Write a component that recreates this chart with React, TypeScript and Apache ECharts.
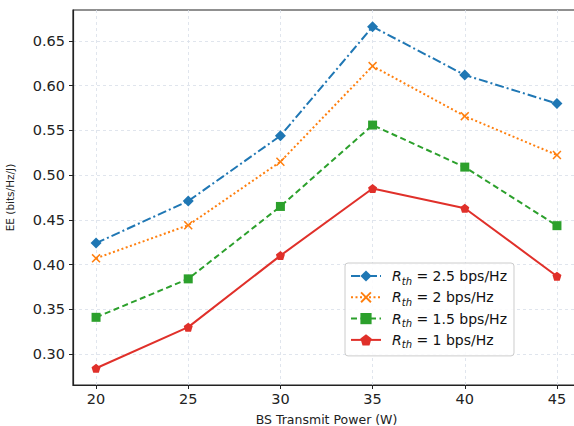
import React, { useEffect, useRef } from "react";
import * as echarts from "echarts";

const powers = [20, 25, 30, 35, 40, 45];
const xTicks = [20, 25, 30, 35, 40, 45];
const yTicks = [0.3, 0.35, 0.4, 0.45, 0.5, 0.55, 0.6, 0.65];
const rth25 = [0.424, 0.471, 0.544, 0.666, 0.612, 0.580];
const rth2 = [0.407, 0.444, 0.515, 0.622, 0.566, 0.5225];
const rth15 = [0.341, 0.384, 0.465, 0.556, 0.509, 0.4435];
const rth1 = [0.284, 0.330, 0.410, 0.485, 0.463, 0.387];
const legendValues = ["2.5", "2", "1.5", "1"];

const FONT = "DejaVu Sans";
const xPath = "path://M0,1.2 L1.2,0 L5,3.8 L8.8,0 L10,1.2 L6.2,5 L10,8.8 L8.8,10 L5,6.2 L1.2,10 L0,8.8 L3.8,5 Z";
const pentPath = "path://M5,0 L10,3.6 L8.1,9.5 L1.9,9.5 L0,3.6 Z";

export default function App() {
  const ref = useRef<HTMLDivElement>(null);
  useEffect(() => {
    const chart = echarts.init(ref.current!, null, { renderer: "svg" });
    const mk = (name: string, vals: number[], color: string, type: any, symbol: string, size: number) => ({
      name,
      type: "line",
      data: powers.map((p, i) => [p, vals[i]]),
      symbol,
      symbolSize: size,
      itemStyle: { color },
      lineStyle: { color, width: 2, type },
      z: 3,
    });
    chart.setOption({
      animation: false,
      backgroundColor: "#ffffff",
      grid: {
        left: 73,
        top: 10,
        bottom: 41,
        right: -6,
        outerBoundsMode: "none",
        containLabel: false,
        show: true,
        borderColor: "#222",
        borderWidth: 1.2,
        backgroundColor: "transparent",
      },
      xAxis: {
        type: "value",
        min: 18.75,
        max: 46.25,
        name: "BS Transmit Power (W)",
        nameLocation: "middle",
        nameGap: 28,
        nameTextStyle: { fontFamily: FONT, fontSize: 12.5, color: "#222" },
        axisLine: { show: true, lineStyle: { color: "#222", width: 1.2 } },
        axisTick: { show: true, length: 4, lineStyle: { color: "#222" }, customValues: xTicks },
        axisLabel: { fontFamily: FONT, fontSize: 14.5, color: "#222", margin: 6, customValues: xTicks },
        splitLine: { show: true, lineStyle: { color: "#d8dee8", type: [3, 3], width: 0.8 } },
      },
      yAxis: {
        type: "value",
        min: 0.2653,
        max: 0.6847,
        name: "EE (bits/Hz/J)",
        nameLocation: "middle",
        nameGap: 58,
        nameTextStyle: { fontFamily: FONT, fontSize: 10.5, color: "#222" },
        axisLine: { show: true, lineStyle: { color: "#222", width: 1.2 } },
        axisTick: { show: true, length: 4, lineStyle: { color: "#222" }, customValues: yTicks },
        axisLabel: {
          fontFamily: FONT,
          fontSize: 14.5,
          color: "#222",
          margin: 8,
          customValues: yTicks,
          formatter: (v: number) => v.toFixed(2),
        },
        splitLine: { show: true, lineStyle: { color: "#d8dee8", type: [3, 3], width: 0.8 } },
      },
      legend: {
        orient: "vertical",
        left: 345,
        top: 263,
        padding: [6, 7, 6, 5],
        itemWidth: 30,
        itemHeight: 14,
        itemGap: 4.3,
        backgroundColor: "rgba(255,255,255,0.85)",
        borderColor: "#cccccc",
        borderWidth: 1,
        borderRadius: 3,
        data: ["2.5", "2", "1.5", "1"],
        formatter: (name: string) => `{r|R}{s|th}{t| = ${name} bps/Hz}`,
        textStyle: {
          fontFamily: FONT,
          fontSize: 14,
          color: "#111",
          padding: [0, 0, 0, 6],
          rich: {
            r: { fontFamily: FONT, fontStyle: "italic", fontSize: 14, lineHeight: 20, color: "#111" },
            s: { fontFamily: FONT, fontStyle: "italic", fontSize: 10, lineHeight: 10, verticalAlign: "bottom", color: "#111" },
            t: { fontFamily: FONT, fontSize: 14, lineHeight: 20, color: "#111" },
          },
        },
      },
      series: [
        mk(legendValues[0], rth25, "#1f77b4", [9, 3, 2, 3], "diamond", 11),
        mk(legendValues[1], rth2, "#ff7f0e", [2, 2.5], xPath, 9),
        mk(legendValues[2], rth15, "#2ca02c", [6, 3.5], "rect", 9),
        mk(legendValues[3], rth1, "#e0302a", "solid", pentPath, 9),
      ],
    });
    return () => chart.dispose();
  }, []);
  return <div ref={ref} style={{ width: 574, height: 426, position: "absolute", left: 0, top: 0 }} />;
}
